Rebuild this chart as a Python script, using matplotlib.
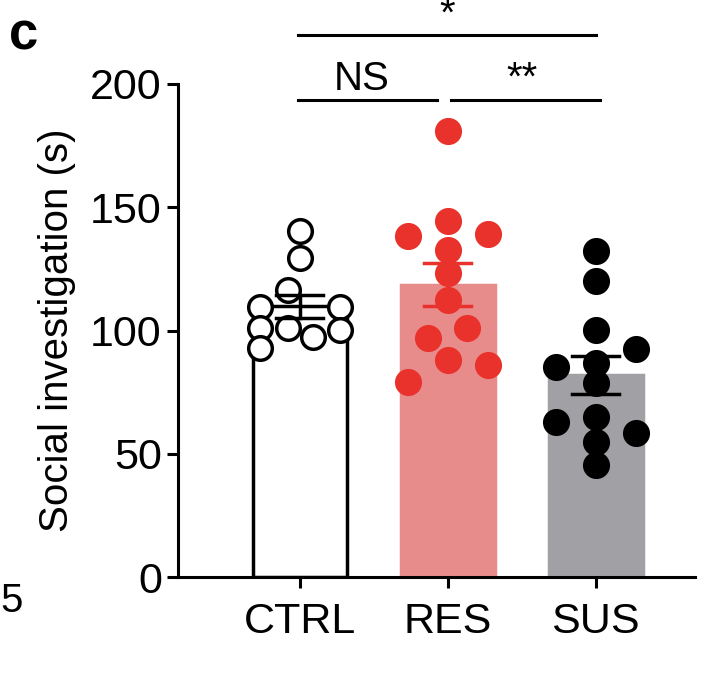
import numpy as np
import matplotlib
matplotlib.use("Agg")
import matplotlib.pyplot as plt

plt.rcParams['font.family'] = ['Liberation Sans', 'DejaVu Sans']

categories = ["CTRL", "RES", "SUS"]
ctrl = [140.5, 129.5, 116.4, 109.7, 109.7, 100.9, 100.9, 97.5, 100.2, 92.8]
ctrl_dx = [0, 0, -0.08, -0.27, 0.27, -0.27, -0.08, 0.09, 0.27, -0.27]
res = [181.1, 144.4, 138.3, 139.1, 132.7, 123.2, 112.4, 100.9, 96.8, 88.0, 86.0, 79.2]
res_dx = [0, 0, -0.27, 0.27, 0, 0, 0, 0.13, -0.13, 0, 0.27, -0.27]
sus = [132.3, 120.2, 100.2, 92.4, 85.1, 86.7, 78.6, 63.0, 65.0, 58.3, 54.9, 45.4]
sus_dx = [0, 0, 0, 0.27, -0.27, 0, 0, -0.27, 0, 0.27, 0, 0]
yticks = [0, 50, 100, 150, 200]

groups = [ctrl, res, sus]
dxs = [ctrl_dx, res_dx, sus_dx]
bar_face = ['white', '#e88b8b', '#a1a1a5']
bar_edge = ['black', '#e88b8b', '#a1a1a5']
pt_face = ['white', '#e8322b', 'black']
pt_edge = ['black', '#e8322b', 'black']
err_col = ['black', '#e8322b', 'black']

fig = plt.figure(figsize=(7.14, 6.88), dpi=100)
ax = fig.add_axes([0.249, 0.161, 0.724, 0.717])
x = np.arange(3)
for i, g in enumerate(groups):
    g = np.array(g)
    m = g.mean()
    sem = g.std(ddof=1) / np.sqrt(len(g))
    ax.bar(i, m, width=0.635, color=bar_face[i], edgecolor=bar_edge[i], linewidth=2.5, zorder=1)
    ax.plot(i + np.array(dxs[i]), g, 'o', ms=17, mfc=pt_face[i], mec=pt_edge[i], mew=2.5, zorder=3,
            clip_on=False)
    ax.plot([i, i], [m - sem, m + sem], color=err_col[i], lw=2.5, zorder=4)
    for v in (m - sem, m + sem):
        ax.plot([i - 0.16, i + 0.16], [v, v], color=err_col[i], lw=2.5, zorder=4)

ax.set_xlim(-0.824, 2.67)
ax.set_ylim(0, 200)
ax.set_yticks(yticks)
ax.set_xticks(x)
ax.set_xticklabels(categories)
ax.tick_params(labelsize=31, width=2.2, length=8)
ax.tick_params(axis='x', pad=10)
for s in ['top', 'right']:
    ax.spines[s].set_visible(False)
for s in ['left', 'bottom']:
    ax.spines[s].set_linewidth(2.2)
ax.set_ylabel("Social investigation (s)", fontsize=29, labelpad=10)

# significance
ax.plot([-0.01, 0.93], [193.5, 193.5], color='black', lw=2.2, clip_on=False)
ax.text(0.42, 194.5, "NS", ha='center', va='bottom', fontsize=29)
ax.plot([1.02, 2.03], [193.5, 193.5], color='black', lw=2.2, clip_on=False)
ax.text(1.5, 194.5, "**", ha='center', va='bottom', fontsize=29)
ax.plot([-0.01, 2.0], [219.9, 219.9], color='black', lw=2.2, clip_on=False)
ax.text(1.0, 220.5, "*", ha='center', va='bottom', fontsize=29)

fig.text(0.012, 0.948, "c", fontsize=38, fontweight='bold', ha='left', va='center')
fig.text(0.0, 0.127, "5", fontsize=29, ha='left', va='center')
fig.savefig("out.png", dpi=100)
